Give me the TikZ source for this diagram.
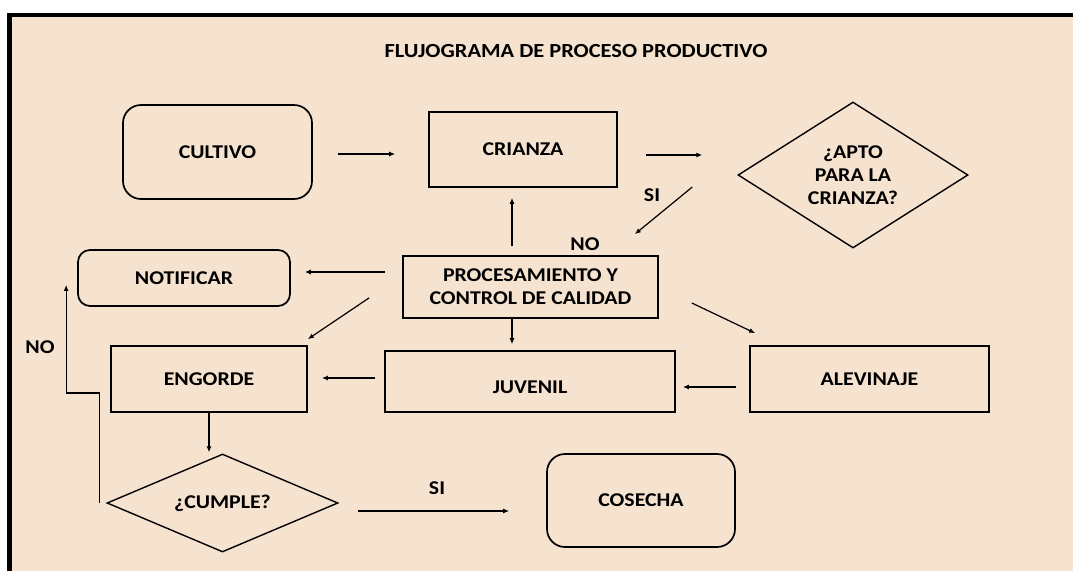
\documentclass[tikz,border=0pt]{standalone}
\usepackage{fontspec}
\setmainfont{Carlito}[FakeStretch=1.12]
\usetikzlibrary{shapes.geometric,arrows.meta,calc}
\definecolor{fondo}{RGB}{245,227,208}

\begin{document}
\begin{tikzpicture}[x=1pt,y=1pt]
						\tikzstyle{every node}+=[inner sep=0pt,font=\fontsize{19.5}{23}\selectfont\bfseries]
						\tikzstyle{caja}=[draw=black,line width=1.7pt,rectangle,align=center]
						\tikzstyle{redonda}=[caja,rounded corners=18pt]
						\tikzstyle{rombo}=[draw=black,line width=1.4pt,diamond,align=center]
						\tikzstyle{flecha}=[black,line width=1.2pt,-{Latex[length=6pt,width=5pt]}]
						\useasboundingbox (0,0) rectangle (1073,-571);
						\fill [white] (0,0) rectangle (1073,-13);
						\fill [white] (0,-13) rectangle (7,-571);
						\fill [black] (7,-13) rectangle (1073,-17);
						\fill [black] (7,-17) rectangle (12,-571);
						\fill [fondo] (12,-17) rectangle (1073,-571);
						\node [font=\fontsize{20}{24}\selectfont\bfseries] (titulo) at (576,-51) {FLUJOGRAMA DE PROCESO PRODUCTIVO};
						\node [redonda,minimum width=189pt,minimum height=94pt] (cultivo) at (217.5,-152) {CULTIVO};
						\node [caja,minimum width=188pt,minimum height=75pt] (crianza) at (523,-149.5) {CRIANZA};
						\node [rombo,aspect=1.6,minimum width=230pt,minimum height=146pt] (apto) at (853,-175) {¿APTO\\PARA LA\\CRIANZA?};
						\node [caja,minimum width=255pt,minimum height=62pt] (proc) at (530.5,-287) {PROCESAMIENTO Y\\CONTROL DE CALIDAD};
						\node [redonda,rounded corners=12pt,minimum width=212pt,minimum height=56pt] (notificar) at (184,-278) {NOTIFICAR};
						\node [caja,minimum width=196pt,minimum height=66pt] (engorde) at (209,-379) {ENGORDE};
						\node [caja,minimum width=290pt,minimum height=61pt,text height=24pt] (juvenil) at (530,-381.5) {JUVENIL};
						\node [caja,minimum width=239pt,minimum height=66pt] (alevinaje) at (869.5,-379) {ALEVINAJE};
						\node [rombo,aspect=2.4,minimum width=231pt,minimum height=98pt] (cumple) at (222.5,-503) {¿CUMPLE?};
						\node [redonda,minimum width=188pt,minimum height=93pt] (cosecha) at (641,-500.5) {COSECHA};
						\draw [flecha] ($(cultivo.east)+(25,-2)$) -- ($(crianza.west)+(-33,-4.5)$);
						\draw [flecha] ($(crianza.east)+(28,-5.5)$) -- ($(apto.west)+(-35,20)$);
						\draw [flecha] ($(apto.west)+(-45,-12)$) -- ($(proc.north east)+(-24,21)$);
						\node (si1) at (652,-195) {SI};
						\node (no1) at (585,-244) {NO};
						\draw [flecha] ($(proc.north)+(-18.5,9)$) -- ($(crianza.south)+(-11,-10)$);
						\draw [flecha] ($(proc.west)+(-17,15)$) -- ($(notificar.east)+(14,6)$);
						\draw [flecha] ($(proc.south west)+(-33,21)$) -- ($(engorde.north east)+(0,6)$);
						\draw [flecha] ($(proc.south)+(-18.5,0)$) -- ($(juvenil.north)+(-18,6)$);
						\draw [flecha] ($(proc.east)+(33,-16)$) -- ($(alevinaje.north west)+(6,12)$);
						\draw [flecha] ($(alevinaje.west)+(-13,-8)$) -- ($(juvenil.east)+(7,-5.5)$);
						\draw [flecha] ($(juvenil.west)+(-9,3.5)$) -- ($(engorde.east)+(14,1)$);
						\draw [flecha] (engorde.south) -- ($(cumple.north)+(-13.5,1)$);
						\draw [flecha] ($(cumple.west)+(-7,0)$) -- ++(0,110) -| ($(notificar.south west)+(-11,22)$);
						\node (no2) at (40,-347) {NO};
						\draw [flecha] ($(cumple.east)+(19,-8)$) -- ($(cosecha.west)+(-37,-10.5)$);
						\node (si2) at (437,-488) {SI};
					\end{tikzpicture}
\end{document}
